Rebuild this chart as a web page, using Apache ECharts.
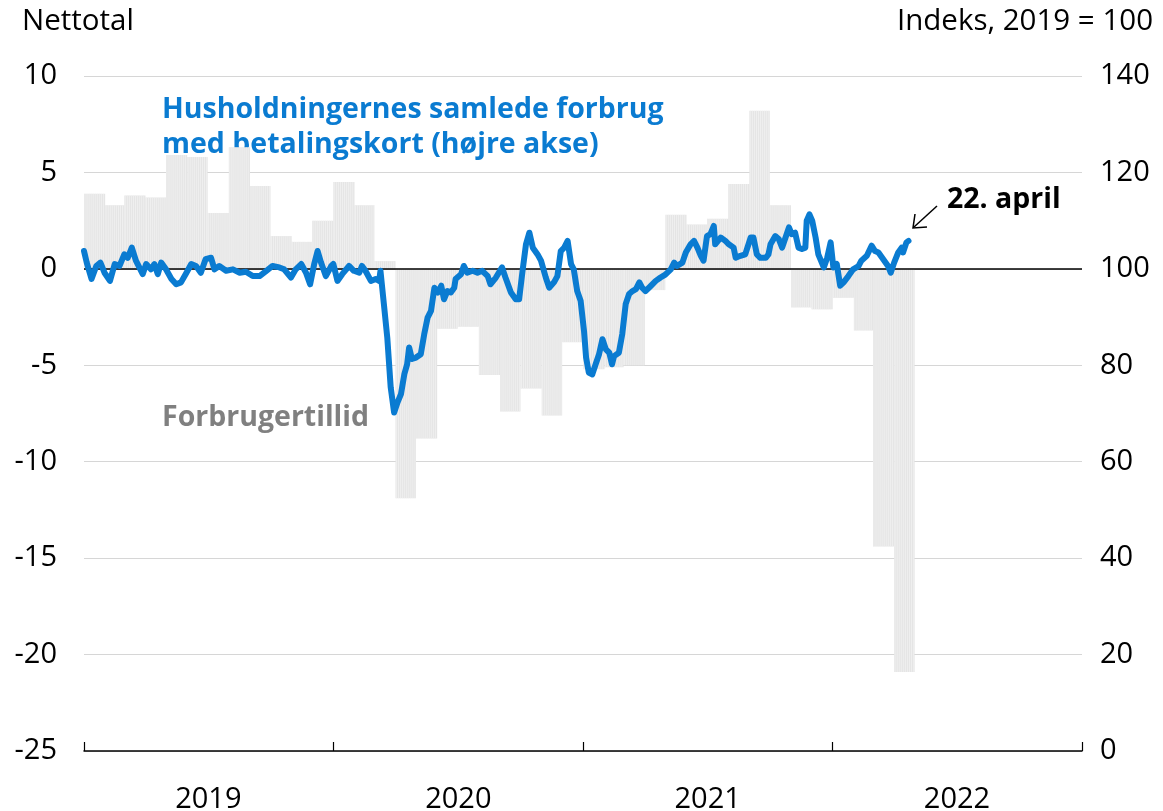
<!DOCTYPE html>
<html>
<head>
<meta charset="utf-8">
<script src="https://cdn.jsdelivr.net/npm/echarts@6/dist/echarts.min.js"></script>
<style>
  html, body { margin: 0; padding: 0; background: #fff; }
  #chart { width: 1163px; height: 811px; }
</style>
</head>
<body>
<div id="chart"></div>
<script>
// Forbrugertillid (nettotal, venstre akse), en værdi pr. måned
const confMonths = [
  '2019-01','2019-02','2019-03','2019-04','2019-05','2019-06','2019-07','2019-08','2019-09','2019-10','2019-11','2019-12',
  '2020-01','2020-02','2020-03','2020-04','2020-05','2020-06','2020-07','2020-08','2020-09','2020-10','2020-11','2020-12',
  '2021-01','2021-02','2021-03','2021-04','2021-05','2021-06','2021-07','2021-08','2021-09','2021-10','2021-11','2021-12',
  '2022-01','2022-02','2022-03','2022-04'
];
const confValues = [
  3.9, 3.3, 3.8, 3.7, 5.9, 5.8, 2.9, 6.3, 4.3, 1.7, 1.4, 2.5,
  4.5, 3.3, 0.4, -11.9, -8.8, -3.1, -3.0, -5.5, -7.4, -6.2, -7.6, -3.8,
  -5.2, -5.1, -5.0, -1.1, 2.8, 2.3, 2.6, 4.4, 8.2, 3.3, -2.0, -2.1,
  -1.5, -3.2, -14.4, -20.9
];

// Husholdningernes forbrug med betalingskort (indeks, højre akse)
const spendDates = [
  '2019-01-01','2019-01-05','2019-01-12','2019-01-19','2019-01-25','2019-01-31','2019-02-08','2019-02-15','2019-02-22',
  '2019-03-01','2019-03-06','2019-03-12','2019-03-18','2019-03-23','2019-03-28','2019-04-02','2019-04-09','2019-04-14',
  '2019-04-19','2019-04-24','2019-05-01','2019-05-09','2019-05-16','2019-05-23','2019-05-31','2019-06-07','2019-06-14',
  '2019-06-21','2019-06-28','2019-07-06','2019-07-11','2019-07-18','2019-07-28','2019-08-07','2019-08-17','2019-08-26',
  '2019-09-05','2019-09-15','2019-09-25','2019-10-04','2019-10-14','2019-10-21','2019-10-31','2019-11-07','2019-11-15',
  '2019-11-22','2019-11-28','2019-12-04','2019-12-09','2019-12-14','2019-12-21','2019-12-29',
  '2020-01-01','2020-01-07','2020-01-14','2020-01-24','2020-01-31','2020-02-08','2020-02-12','2020-02-17','2020-02-25',
  '2020-03-03','2020-03-08','2020-03-10','2020-03-15','2020-03-20','2020-03-25','2020-03-30','2020-04-04','2020-04-09',
  '2020-04-14','2020-04-18','2020-04-21','2020-04-25','2020-05-01','2020-05-08','2020-05-13','2020-05-18','2020-05-23',
  '2020-05-28','2020-06-02','2020-06-07','2020-06-11','2020-06-16','2020-06-21','2020-06-26','2020-06-28','2020-07-06',
  '2020-07-10','2020-07-15','2020-07-23','2020-07-30','2020-08-06','2020-08-14','2020-08-18','2020-08-26','2020-09-04',
  '2020-09-09','2020-09-17','2020-09-24','2020-09-29','2020-10-04','2020-10-09','2020-10-14','2020-10-19','2020-10-26',
  '2020-10-31','2020-11-07','2020-11-12','2020-11-19','2020-11-24','2020-11-29','2020-12-04','2020-12-09','2020-12-14',
  '2020-12-18','2020-12-23','2020-12-28',
  '2021-01-02','2021-01-05','2021-01-09','2021-01-14','2021-01-19','2021-01-24','2021-01-29','2021-02-03','2021-02-08',
  '2021-02-12','2021-02-15','2021-02-22','2021-02-27','2021-03-04','2021-03-09','2021-03-14','2021-03-19','2021-03-24',
  '2021-03-28','2021-04-02','2021-04-10','2021-04-17','2021-04-24','2021-05-01','2021-05-09','2021-05-14','2021-05-18',
  '2021-05-26','2021-05-31','2021-06-07','2021-06-12','2021-06-17','2021-06-22','2021-06-26','2021-07-01','2021-07-06',
  '2021-07-11','2021-07-13','2021-07-21','2021-07-28','2021-08-02','2021-08-09','2021-08-12','2021-08-19','2021-08-26',
  '2021-09-03','2021-09-07','2021-09-12','2021-09-17','2021-09-25','2021-09-29','2021-10-02','2021-10-09','2021-10-14',
  '2021-10-19','2021-10-24','2021-10-29','2021-11-02','2021-11-07','2021-11-12','2021-11-17','2021-11-22','2021-11-24',
  '2021-11-28','2021-12-02','2021-12-07','2021-12-11','2021-12-19','2021-12-24','2021-12-29',
  '2022-01-02','2022-01-07','2022-01-12','2022-01-17','2022-01-24','2022-01-31','2022-02-08','2022-02-12','2022-02-20',
  '2022-02-27','2022-03-04','2022-03-09','2022-03-16','2022-03-23','2022-03-27','2022-04-01','2022-04-07','2022-04-12',
  '2022-04-14','2022-04-19','2022-04-22'
];
const spendIndex = [
  103.7, 101.3, 97.9, 100.6, 101.3, 99.2, 97.5, 101.0, 100.6,
  103.0, 102.3, 104.4, 101.7, 100.3, 98.9, 101.0, 99.9, 101.0,
  98.9, 101.3, 99.9, 97.9, 96.8, 97.2, 99.2, 101.0, 100.6,
  99.2, 102.0, 102.3, 99.9, 100.6, 99.6, 99.9, 99.2, 99.4,
  98.5, 98.5, 99.6, 100.6, 100.3, 99.9, 98.2, 99.9, 101.0,
  99.2, 96.8, 101.0, 103.7, 101.3, 98.5, 100.6,
  101.0, 97.5, 98.9, 100.6, 99.6, 99.2, 100.6, 99.6, 97.5,
  97.9, 97.5, 99.6, 92.7, 85.7, 75.4, 70.2, 72.3, 74.0,
  78.2, 80.2, 83.7, 81.3, 81.6, 82.3, 86.4, 89.9, 91.3,
  96.1, 95.1, 96.5, 93.7, 95.4, 95.1, 96.1, 97.9, 98.9,
  100.6, 99.2, 99.6, 99.2, 99.6, 98.5, 96.8, 98.2, 100.3,
  98.2, 95.1, 93.7, 93.7, 99.6, 105.1, 107.5, 104.4, 103.0,
  101.7, 98.2, 96.1, 97.2, 98.5, 103.7, 104.4, 105.8, 101.0,
  99.9, 95.4, 93.4,
  87.1, 81.6, 78.5, 78.1, 80.2, 82.3, 85.4, 83.3, 82.6,
  80.2, 81.9, 82.6, 86.5, 92.7, 94.8, 95.4, 95.8, 97.2,
  96.1, 95.4, 96.5, 97.5, 98.2, 98.8, 99.9, 101.3, 100.6,
  101.3, 103.4, 105.1, 105.8, 104.4, 102.7, 101.7, 106.8, 107.2,
  108.9, 105.1, 106.5, 105.8, 105.1, 104.4, 102.3, 102.7, 103.0,
  106.5, 106.5, 103.0, 102.3, 102.3, 103.0, 105.1, 106.8, 106.2,
  104.4, 106.5, 108.6, 107.2, 107.5, 104.4, 104.1, 104.4, 110.0,
  111.3, 110.0, 106.5, 103.0, 100.3, 102.3, 105.5,
  100.3, 101.0, 96.5, 97.2, 98.5, 99.9, 100.6, 101.7, 102.7,
  104.8, 103.7, 103.4, 102.0, 100.6, 99.2, 101.3, 103.4, 104.4,
  103.4, 105.5, 105.8
];

const yearTicks = ['2019-01-01', '2020-01-01', '2021-01-01', '2022-01-01', '2023-01-01'];
const yearLabelDates = ['2019-07-02', '2020-07-02', '2021-07-02', '2022-07-02'];

const FONT = '"Open Sans", Lato, sans-serif';
const BLUE = '#0a7bd1';
const DAY = 86400000;

function ts(s) {
  const p = s.split('-').map(Number);
  return +new Date(p[0], p[1] - 1, p[2] || 1);
}

// hver måned som [start, slut, værdi]
const confData = confMonths.map((m, i) => {
  const p = m.split('-').map(Number);
  return [+new Date(p[0], p[1] - 1, 1), +new Date(p[0], p[1], 1), confValues[i]];
});
const spendData = spendDates.map((d, i) => [ts(d), spendIndex[i]]);

const chart = echarts.init(document.getElementById('chart'));

const option = {
  animation: false,
  textStyle: { fontFamily: FONT },
  grid: { left: 84, right: 81, top: 76, bottom: 60, containLabel: false, outerBoundsMode: 'none' },
  xAxis: {
    type: 'value',
    min: ts('2019-01-01'),
    max: ts('2023-01-01'),
    splitLine: { show: false },
    axisLine: { show: true, onZero: false, lineStyle: { color: '#000', width: 1.5 } },
    axisTick: {
      show: true, inside: true, length: 9,
      lineStyle: { color: '#000', width: 1.2 },
      customValues: yearTicks.map(ts)
    },
    axisLabel: {
      fontSize: 29, color: '#000', margin: 34, fontFamily: FONT,
      customValues: yearLabelDates.map(ts),
      formatter: v => String(new Date(v).getFullYear())
    }
  },
  yAxis: [
    {
      type: 'value', min: -25, max: 10, interval: 5,
      axisLine: { show: false }, axisTick: { show: false },
      axisLabel: { fontSize: 29, color: '#000', margin: 27, fontFamily: FONT },
      splitLine: { show: true, lineStyle: { color: '#d6d6d6', width: 1.2 } }
    },
    {
      type: 'value', min: 0, max: 140, interval: 20,
      axisLine: { show: false }, axisTick: { show: false },
      axisLabel: { fontSize: 29, color: '#000', margin: 18, fontFamily: FONT },
      splitLine: { show: false }
    }
  ],
  series: [
    {
      name: 'Forbrugertillid',
      type: 'custom',
      yAxisIndex: 0,
      z: 1,
      encode: { x: [0, 1], y: 2 },
      data: confData,
      renderItem: function (params, api) {
        const start = api.value(0), end = api.value(1), v = api.value(2);
        const a = api.coord([start, v]);
        const b = api.coord([end, 0]);
        const top = Math.min(a[1], b[1]);
        const h = Math.abs(a[1] - b[1]);
        const children = [{
          type: 'rect',
          shape: { x: a[0], y: top, width: b[0] - a[0], height: h },
          style: { fill: '#e5e5e5' }
        }];
        // tynde striber, en pr. tredje dag
        for (let t = start + DAY * 1.5; t < end; t += DAY * 3) {
          const x = api.coord([t, 0])[0];
          children.push({
            type: 'line',
            shape: { x1: x, y1: top, x2: x, y2: top + h },
            style: { stroke: '#f1f1f1', lineWidth: 0.8 }
          });
        }
        return { type: 'group', children: children };
      },
      markLine: {
        silent: true,
        symbol: 'none',
        label: { show: false },
        lineStyle: { color: '#000', width: 1.5, type: 'solid' },
        data: [{ yAxis: 0 }]
      }
    },
    {
      name: 'Forbrug med betalingskort',
      type: 'line',
      yAxisIndex: 1,
      z: 5,
      data: spendData,
      showSymbol: false,
      smooth: false,
      lineStyle: { color: BLUE, width: 6, join: 'round', cap: 'round' }
    }
  ],
  graphic: [
    { type: 'text', left: 22, top: 7, style: { text: 'Nettotal', font: '29.5px ' + FONT, fill: '#000' } },
    { type: 'text', right: 10, top: 7, style: { text: 'Indeks, 2019 = 100', font: '29.5px ' + FONT, fill: '#000' } },
    {
      type: 'text', left: 162, top: 92,
      style: {
        text: 'Husholdningernes samlede forbrug\nmed betalingskort (højre akse)',
        font: 'bold 28.5px ' + FONT, fill: BLUE, lineHeight: 35
      }
    },
    { type: 'text', left: 162, top: 403, style: { text: 'Forbrugertillid', font: 'bold 28.5px ' + FONT, fill: '#808080' } },
    { type: 'text', left: 947, top: 185, style: { text: '22. april', font: 'bold 28.5px ' + FONT, fill: '#000' } },
    {
      type: 'line', z: 10,
      shape: { x1: 937, y1: 206, x2: 914, y2: 227 },
      style: { stroke: '#000', lineWidth: 1.5 }
    },
    {
      type: 'polyline', z: 10,
      shape: { points: [[915, 214], [913, 228], [927, 227]] },
      style: { stroke: '#000', lineWidth: 1.5, fill: null }
    }
  ]
};

chart.setOption(option);
</script>
</body>
</html>
